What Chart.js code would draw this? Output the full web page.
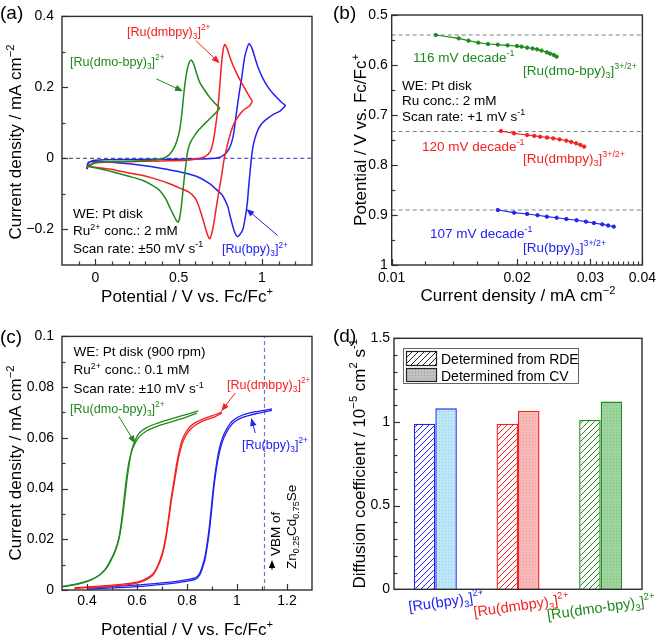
<!DOCTYPE html>
<html><head><meta charset="utf-8">
<script src="https://cdn.jsdelivr.net/npm/chart.js@4.4.1/dist/chart.umd.min.js"></script>
<style>
html,body{margin:0;padding:0;background:#fff}
body{width:661px;height:640px;position:relative;overflow:hidden}
canvas{position:absolute;display:block}
</style></head><body>
<canvas id="ca" width="330" height="320" style="left:0;top:0"></canvas>
<canvas id="cb" width="331" height="320" style="left:330px;top:0"></canvas>
<canvas id="cc" width="330" height="320" style="left:0;top:320px"></canvas>
<canvas id="cd" width="331" height="320" style="left:330px;top:320px"></canvas>
<script>
// ---------------- DATA ----------------
// (a) cyclic voltammograms [potential V, current density mA cm-2]
const cvBpyFwd=[[-0.05,-0.03],[-0.04,-0.012],[0,-0.005],[0.2,-0.003],[0.5,-0.002],[0.7,0.0],[0.76,0.006],[0.8,0.025],[0.826,0.06],[0.846,0.126],[0.862,0.18],[0.876,0.22],[0.896,0.285],[0.91,0.31],[0.922,0.323],[0.94,0.31],[0.96,0.28],[0.976,0.257],[1.006,0.225],[1.036,0.201],[1.066,0.183],[1.096,0.168],[1.12,0.157],[1.142,0.149]];
const cvBpyRev=[[1.142,0.149],[1.11,0.134],[1.076,0.126],[1.04,0.115],[1.006,0.102],[0.98,0.085],[0.966,0.069],[0.951,0.045],[0.94,0.015],[0.93,-0.03],[0.92,-0.08],[0.912,-0.125],[0.9,-0.165],[0.885,-0.2],[0.866,-0.215],[0.852,-0.22],[0.838,-0.21],[0.826,-0.193],[0.81,-0.165],[0.796,-0.137],[0.776,-0.115],[0.756,-0.1],[0.72,-0.085],[0.686,-0.071],[0.606,-0.05],[0.5,-0.037],[0.4,-0.028],[0.286,-0.02],[0.15,-0.013],[0,-0.008],[-0.044,-0.012],[-0.05,-0.03]];
const cvDmbFwd=[[-0.05,-0.025],[0,-0.013],[0.2,-0.009],[0.4,-0.007],[0.55,-0.005],[0.62,0.0],[0.66,0.006],[0.69,0.02],[0.706,0.045],[0.72,0.085],[0.735,0.14],[0.746,0.2],[0.755,0.255],[0.765,0.3],[0.776,0.321],[0.79,0.31],[0.81,0.282],[0.826,0.262],[0.856,0.232],[0.886,0.206],[0.91,0.186],[0.926,0.173],[0.942,0.161]];
const cvDmbRev=[[0.942,0.161],[0.925,0.148],[0.9,0.14],[0.886,0.135],[0.86,0.12],[0.836,0.102],[0.816,0.079],[0.806,0.062],[0.796,0.045],[0.786,0.025],[0.776,0.006],[0.766,-0.022],[0.756,-0.053],[0.746,-0.08],[0.736,-0.108],[0.726,-0.137],[0.712,-0.18],[0.698,-0.212],[0.686,-0.226],[0.674,-0.216],[0.66,-0.195],[0.646,-0.172],[0.63,-0.148],[0.616,-0.128],[0.596,-0.11],[0.566,-0.096],[0.5,-0.082],[0.446,-0.071],[0.35,-0.056],[0.286,-0.048],[0.15,-0.036],[0.086,-0.03],[0,-0.025],[-0.044,-0.022],[-0.05,-0.025]];
const cvDmoFwd=[[-0.05,-0.022],[0,-0.011],[0.2,-0.008],[0.386,-0.003],[0.42,0.003],[0.446,0.012],[0.47,0.028],[0.486,0.045],[0.506,0.08],[0.52,0.13],[0.53,0.178],[0.54,0.218],[0.552,0.252],[0.564,0.271],[0.576,0.277],[0.59,0.266],[0.606,0.242],[0.626,0.215],[0.656,0.192],[0.686,0.172],[0.716,0.156],[0.746,0.142]];
const cvDmoRev=[[0.746,0.142],[0.726,0.13],[0.706,0.121],[0.676,0.107],[0.646,0.093],[0.62,0.08],[0.596,0.065],[0.576,0.05],[0.562,0.035],[0.552,0.015],[0.544,-0.015],[0.536,-0.045],[0.526,-0.09],[0.516,-0.135],[0.506,-0.167],[0.496,-0.18],[0.484,-0.173],[0.466,-0.156],[0.446,-0.137],[0.42,-0.112],[0.386,-0.09],[0.34,-0.075],[0.286,-0.062],[0.2,-0.05],[0.146,-0.043],[0.08,-0.035],[0.026,-0.029],[-0.044,-0.022]];
const aZeroLeft=[[-0.2,0],[0.6,0]];
const aZeroRight=[[0.6,0],[1.3,0]];
const aXTicks=[0,0.5,1], aXMinor=[-0.1,0.1,0.2,0.3,0.4,0.6,0.7,0.8,0.9,1.1,1.2];
const aYTicks=[-0.2,0,0.2,0.4], aYMinor=[-0.1,0.1,0.3];

// (b) Tafel plots [current density mA cm-2, potential V]
const tafDmo=[[0.01276,0.540],[0.01448,0.5467],[0.01529,0.5513],[0.01614,0.5553],[0.01703,0.558],[0.01798,0.5593],[0.01898,0.5607],[0.0200,0.562],[0.0205,0.5632],[0.02115,0.5653],[0.0218,0.567],[0.02234,0.5687],[0.0229,0.5712],[0.02358,0.5747],[0.0240,0.5772],[0.0245,0.580],[0.02489,0.5833]];
const tafDmb=[[0.0183,0.732],[0.01968,0.7367],[0.02115,0.740],[0.0220,0.7417],[0.02273,0.7433],[0.0236,0.745],[0.02444,0.7467],[0.0253,0.7488],[0.02627,0.7513],[0.0270,0.7538],[0.02773,0.7567],[0.0284,0.7598],[0.0290,0.7633]];
const tafBpy=[[0.01798,0.890],[0.01968,0.8953],[0.02115,0.898],[0.0224,0.9005],[0.02358,0.9033],[0.0249,0.9055],[0.02627,0.908],[0.0278,0.9105],[0.02928,0.9133],[0.0306,0.916],[0.03205,0.9187],[0.0331,0.921],[0.03414,0.9233]];
const bRefPotentials=[0.54,0.733,0.89];
const bXTicks=[0.01,0.02,0.03,0.04];
const bXMinor=[0.012,0.014,0.016,0.018,0.021,0.022,0.023,0.024,0.025,0.026,0.027,0.028,0.029,0.031,0.032,0.033,0.034,0.035,0.036,0.037,0.038,0.039];
const bYTicks=[0.5,0.6,0.7,0.8,0.9,1], bYMinor=[0.55,0.65,0.75,0.85,0.95];

// (c) RDE linear sweeps [potential V, current density mA cm-2]
const rdeDmoFwd=[[0.30,0.0012],[0.35,0.002],[0.40,0.0033],[0.44,0.0052],[0.47,0.0078],[0.49,0.011],[0.51,0.015],[0.525,0.0195],[0.535,0.025],[0.545,0.033],[0.555,0.042],[0.565,0.049],[0.575,0.0535],[0.59,0.0575],[0.61,0.0605],[0.64,0.0628],[0.68,0.0645],[0.72,0.0658],[0.76,0.067],[0.80,0.0683],[0.84,0.0698]];
const rdeDmoRev=[[0.845,0.0706],[0.80,0.0693],[0.76,0.0682],[0.72,0.0670],[0.68,0.0657],[0.64,0.0641],[0.61,0.062],[0.595,0.0595],[0.58,0.0555],[0.57,0.0505],[0.56,0.0435],[0.55,0.035],[0.54,0.027],[0.53,0.021],[0.515,0.0158],[0.495,0.0115],[0.475,0.0082],[0.445,0.0055],[0.40,0.0035],[0.35,0.0022],[0.30,0.0014]];
const rdeDmbFwd=[[0.35,0.0006],[0.40,0.0009],[0.50,0.0015],[0.57,0.0022],[0.62,0.0033],[0.66,0.0055],[0.68,0.0085],[0.70,0.0134],[0.715,0.020],[0.727,0.0278],[0.737,0.035],[0.747,0.041],[0.757,0.047],[0.767,0.0525],[0.78,0.0575],[0.793,0.0605],[0.81,0.063],[0.833,0.065],[0.86,0.0665],[0.887,0.0675],[0.915,0.0685],[0.94,0.0698]];
const rdeDmbRev=[[0.94,0.0703],[0.915,0.0692],[0.887,0.0683],[0.86,0.0673],[0.833,0.066],[0.81,0.0642],[0.793,0.0618],[0.78,0.059],[0.767,0.054],[0.757,0.0488],[0.747,0.0425],[0.737,0.0365],[0.727,0.029],[0.715,0.021],[0.70,0.0142],[0.68,0.009],[0.66,0.006],[0.62,0.0037],[0.57,0.0026],[0.50,0.0019],[0.40,0.0012],[0.35,0.0009]];
const rdeBpyFwd=[[0.40,0.0003],[0.50,0.0008],[0.60,0.0013],[0.70,0.0022],[0.77,0.003],[0.833,0.0042],[0.85,0.0058],[0.86,0.0081],[0.873,0.0125],[0.887,0.0213],[0.897,0.030],[0.907,0.040],[0.917,0.0475],[0.927,0.053],[0.94,0.058],[0.953,0.0612],[0.973,0.0645],[0.993,0.0665],[1.02,0.068],[1.047,0.0688],[1.075,0.0695],[1.10,0.0700],[1.14,0.0708]];
const rdeBpyRev=[[1.14,0.0714],[1.10,0.0707],[1.075,0.0703],[1.047,0.0697],[1.02,0.0689],[0.993,0.0675],[0.973,0.0657],[0.953,0.0625],[0.94,0.0595],[0.927,0.0548],[0.917,0.049],[0.907,0.0418],[0.897,0.0322],[0.887,0.023],[0.873,0.0138],[0.86,0.009],[0.85,0.0065],[0.833,0.0048],[0.77,0.0036],[0.70,0.0028],[0.60,0.0019],[0.50,0.0013],[0.40,0.0008]];
const cVbmLine=[[1.11,0],[1.11,0.1]];
const cXTicks=[0.4,0.6,0.8,1,1.2], cXMinor=[0.5,0.7,0.9,1.1];
const cYTicks=[0,0.02,0.04,0.06,0.08,0.1], cYMinor=[0.01,0.03,0.05,0.07,0.09];

// (d) diffusion coefficients (10^-5 cm2 s-1)
const dCategories=['[Ru(bpy)_{3}]^{2+}','[Ru(dmbpy)_{3}]^{2+}','[Ru(dmo-bpy)_{3}]^{2+}'];
const dRDE=[0.99,0.99,1.012];
const dCV=[1.082,1.066,1.122];
const dSeriesNames=['Determined from RDE','Determined from CV'];
const dYTicks=[0,0.5,1,1.5], dYMinor=[0.1,0.2,0.3,0.4,0.6,0.7,0.8,0.9,1.1,1.2,1.3,1.4];

// ---------------- STYLE / HELPERS ----------------
const FONT="'Liberation Sans', Arial, Helvetica, sans-serif";
const BLUE='#2121f2', RED='#f52020', GREEN='#1e891e';
Chart.defaults.font.family=FONT;
Chart.defaults.color='#000';
Chart.defaults.animation=false;

function pts(a){return a.map(p=>({x:p[0],y:p[1]}));}
function fmt(v){return String(+Number(v).toFixed(4)).replace('-','\u2212');}
function lineDs(data,color,extra){return Object.assign({data:pts(data),showLine:true,borderColor:color,backgroundColor:color,borderWidth:1.5,pointRadius:0,tension:0.25,fill:false},extra||{});}

function parseRich(s){const out=[];let buf='',i=0;while(i<s.length){const c=s[i];if((c==='_'||c==='^')&&s[i+1]==='{'){if(buf){out.push({t:buf,m:0});buf='';}const j=s.indexOf('}',i+2);out.push({t:s.slice(i+2,j),m:c==='_'?1:2});i=j+1;}else{buf+=c;i++;}}if(buf)out.push({t:buf,m:0});return out;}
function drawRich(ctx,s,x,y,o){
  o=o||{};const size=o.size||13.5,color=o.color||'#000',align=o.align||'left',rot=o.rot||0;
  const parts=parseRich(s);
  ctx.save();ctx.translate(x,y);if(rot)ctx.rotate(rot);
  ctx.fillStyle=color;ctx.textBaseline='alphabetic';ctx.textAlign='left';
  let w=0;const ws=[];
  parts.forEach(p=>{ctx.font=(p.m?size*0.66:size)+'px '+FONT;const m=ctx.measureText(p.t).width;ws.push(m);w+=m;});
  let cx=align==='center'?-w/2:align==='right'?-w:0;
  const base=size*0.36;
  parts.forEach((p,k)=>{ctx.font=(p.m?size*0.66:size)+'px '+FONT;const dy=p.m===1?size*0.26:p.m===2?-size*0.42:0;ctx.fillText(p.t,cx,base+dy);cx+=ws[k];});
  ctx.restore();
}
function arrow(ctx,x0,y0,x1,y1,color){
  const ang=Math.atan2(y1-y0,x1-x0),L=8,W=3.2,c=Math.cos(ang),s=Math.sin(ang);
  ctx.save();ctx.strokeStyle=color;ctx.fillStyle=color;ctx.lineWidth=1;
  ctx.beginPath();ctx.moveTo(x0,y0);ctx.lineTo(x1-L*0.7*c,y1-L*0.7*s);ctx.stroke();
  ctx.beginPath();ctx.moveTo(x1,y1);ctx.lineTo(x1-L*c+W*s,y1-L*s-W*c);ctx.lineTo(x1-L*c-W*s,y1-L*s+W*c);ctx.closePath();ctx.fill();
  ctx.restore();
}
function framePlugin(t){return {id:'frame',afterDatasetsDraw(chart){
  const {ctx,chartArea:a,scales}=chart;const sx=scales.x,sy=scales.y;
  ctx.save();ctx.strokeStyle='#333';ctx.lineWidth=1.2;
  const vt=(v,len)=>{const p=Math.round(sx.getPixelForValue(v))+0.5;ctx.beginPath();ctx.moveTo(p,a.bottom);ctx.lineTo(p,a.bottom-len);ctx.stroke();};
  const ht=(v,len)=>{const p=Math.round(sy.getPixelForValue(v))+0.5;ctx.beginPath();ctx.moveTo(a.left,p);ctx.lineTo(a.left+len,p);ctx.stroke();};
  (t.xMajor||[]).forEach(v=>vt(v,6));(t.xMinor||[]).forEach(v=>vt(v,3.5));
  (t.yMajor||[]).forEach(v=>ht(v,6));(t.yMinor||[]).forEach(v=>ht(v,3.5));
  ctx.lineWidth=1.4;ctx.strokeStyle='#2e2e2e';ctx.strokeRect(a.left,a.top,a.right-a.left,a.bottom-a.top);
  ctx.restore();}};}
function notesPlugin(items,extra){return {id:'notes',afterDraw(chart){
  const ctx=chart.ctx,sx=chart.scales.x,sy=chart.scales.y;
  items.forEach(it=>{
    if(it.arrow){const [p,q]=it.arrow;arrow(ctx,sx.getPixelForValue(p[0]),sy.getPixelForValue(p[1]),sx.getPixelForValue(q[0]),sy.getPixelForValue(q[1]),it.color);}
    else drawRich(ctx,it.s,it.x,it.y,it);
  });
  if(extra)extra(chart);}};}
function fixedTicks(arr){return s=>{s.ticks=arr.map(v=>({value:v}));};}
function axisX(o){return Object.assign({grid:{display:false,drawTicks:false},border:{display:false},
  ticks:{font:{size:14},color:'#000',padding:o.pad||5,maxRotation:0,autoSkip:false,callback:v=>fmt(v)},
  afterBuildTicks:fixedTicks(o.ticks),afterFit:s=>{s.height=o.h;}},o.extra||{});}
function axisY(o){return Object.assign({grid:{display:false,drawTicks:false},border:{display:false},
  ticks:{font:{size:14},color:'#000',padding:o.pad||8,autoSkip:false,callback:v=>fmt(v)},
  afterBuildTicks:fixedTicks(o.ticks),afterFit:s=>{s.width=o.w;}},o.extra||{});}
const commonPlugins={legend:{display:false},tooltip:{enabled:false}};
const HALF=-Math.PI/2;
const LBL=12.6;

// ---------------- (a) ----------------
new Chart(document.getElementById('ca'),{type:'scatter',
  data:{datasets:[
    lineDs(cvDmoFwd,GREEN),lineDs(cvDmoRev,GREEN),
    lineDs(cvDmbFwd,RED),lineDs(cvDmbRev,RED),
    lineDs(cvBpyFwd,BLUE),lineDs(cvBpyRev,BLUE),
    lineDs(aZeroRight,'#5a5ad6',{borderWidth:1.2,borderDash:[4,3],tension:0}),
    lineDs(aZeroLeft,'#666666',{borderWidth:1.2,borderDash:[4,3],tension:0})
  ]},
  options:{responsive:false,devicePixelRatio:1,animation:false,
    layout:{padding:{left:0,top:16,right:18,bottom:0}},
    scales:{
      x:axisX({ticks:aXTicks,h:55,extra:{type:'linear',min:-0.2,max:1.3}}),
      y:axisY({ticks:aYTicks,w:62,extra:{type:'linear',min:-0.3,max:0.4}})
    },plugins:commonPlugins},
  plugins:[framePlugin({xMajor:aXTicks,xMinor:aXMinor,yMajor:aYTicks,yMinor:aYMinor}),
    notesPlugin([
      {s:'(a)',x:0,y:12,size:19},
      {s:'Potential / V vs. Fc/Fc^{+}',x:187,y:296,size:17,align:'center'},
      {s:'Current density / mA cm^{\u22122}',x:15,y:142,size:17,align:'center',rot:HALF},
      {s:'[Ru(dmbpy)_{3}]^{2+}',x:127,y:31,color:RED,size:LBL},
      {s:'[Ru(dmo-bpy)_{3}]^{2+}',x:70,y:61,color:GREEN,size:LBL},
      {s:'[Ru(bpy)_{3}]^{2+}',x:222,y:248.5,color:BLUE,size:LBL},
      {s:'WE: Pt disk',x:73,y:213},
      {s:'Ru^{2+} conc.: 2 mM',x:73,y:230.5},
      {s:'Scan rate: \u00b150 mV s^{-1}',x:73,y:248},
      {arrow:[[0.603,0.332],[0.746,0.268]],color:RED},
      {arrow:[[0.366,0.224],[0.526,0.189]],color:GREEN},
      {arrow:[[1.094,-0.217],[0.906,-0.142]],color:BLUE}
    ])]
});

// ---------------- (b) ----------------
const bRefDs=bRefPotentials.map(v=>lineDs([[0.01,v],[0.04,v]],'#808080',{borderWidth:1.2,borderDash:[4,3],tension:0}));
function tafDs(d,c){return {data:pts(d),showLine:true,borderColor:c,backgroundColor:'#ffffff',borderWidth:1.1,pointRadius:1.7,pointBorderWidth:1,pointBorderColor:c,pointBackgroundColor:c,tension:0,fill:false};}
new Chart(document.getElementById('cb'),{type:'scatter',
  data:{datasets:[tafDs(tafDmo,GREEN),tafDs(tafDmb,RED),tafDs(tafBpy,BLUE)].concat(bRefDs)},
  options:{responsive:false,devicePixelRatio:1,animation:false,
    layout:{padding:{left:0,top:15,right:16,bottom:0}},
    scales:{
      x:axisX({ticks:bXTicks,h:55,extra:{type:'logarithmic',min:0.01,max:0.04}}),
      y:axisY({ticks:bYTicks,w:61.7,pad:4,extra:{type:'linear',min:0.5,max:1,reverse:true}})
    },plugins:commonPlugins},
  plugins:[framePlugin({xMajor:bXTicks,xMinor:bXMinor,yMajor:bYTicks,yMinor:bYMinor}),
    notesPlugin([
      {s:'(b)',x:3,y:12,size:19},
      {s:'Current density / mA cm^{\u22122}',x:188,y:295,size:17,align:'center'},
      {s:'Potential / V vs. Fc/Fc^{+}',x:30,y:140,size:17,align:'center',rot:HALF},
      {s:'116 mV decade^{-1}',x:83,y:57,color:GREEN},
      {s:'[Ru(dmo-bpy)_{3}]^{3+/2+}',x:193,y:70,color:GREEN},
      {s:'WE: Pt disk',x:72,y:85},
      {s:'Ru conc.: 2 mM',x:72,y:100.5},
      {s:'Scan rate: +1 mV s^{-1}',x:72,y:116},
      {s:'120 mV decade^{-1}',x:92,y:146,color:RED},
      {s:'[Ru(dmbpy)_{3}]^{3+/2+}',x:193,y:158,color:RED},
      {s:'107 mV decade^{-1}',x:100,y:233,color:BLUE},
      {s:'[Ru(bpy)_{3}]^{3+/2+}',x:193,y:247,color:BLUE}
    ])]
});

// ---------------- (c) ----------------
new Chart(document.getElementById('cc'),{type:'scatter',
  data:{datasets:[
    lineDs(rdeDmoFwd,GREEN,{borderWidth:1.3}),lineDs(rdeDmoRev,GREEN,{borderWidth:1.3}),
    lineDs(rdeDmbFwd,RED,{borderWidth:1.3}),lineDs(rdeDmbRev,RED,{borderWidth:1.3}),
    lineDs(rdeBpyFwd,BLUE,{borderWidth:1.3}),lineDs(rdeBpyRev,BLUE,{borderWidth:1.3}),
    lineDs(cVbmLine,'#7272b4',{borderWidth:1.2,borderDash:[4,3],tension:0})
  ]},
  options:{responsive:false,devicePixelRatio:1,animation:false,
    layout:{padding:{left:0,top:16,right:18,bottom:0}},
    scales:{
      x:axisX({ticks:cXTicks,h:50,pad:3,extra:{type:'linear',min:0.3,max:1.3}}),
      y:axisY({ticks:cYTicks,w:62,extra:{type:'linear',min:0,max:0.1}})
    },plugins:commonPlugins},
  plugins:[framePlugin({xMajor:cXTicks,xMinor:cXMinor,yMajor:cYTicks,yMinor:cYMinor}),
    notesPlugin([
      {s:'(c)',x:0,y:16,size:19},
      {s:'Potential / V vs. Fc/Fc^{+}',x:187,y:309,size:17,align:'center'},
      {s:'Current density / mA cm^{\u22122}',x:15,y:143,size:17,align:'center',rot:HALF},
      {s:'WE: Pt disk (900 rpm)',x:73.5,y:31},
      {s:'Ru^{2+} conc.: 0.1 mM',x:73.5,y:49.5},
      {s:'Scan rate: \u00b110 mV s^{-1}',x:73.5,y:68.5},
      {s:'[Ru(dmo-bpy)_{3}]^{2+}',x:70,y:88,color:GREEN,size:LBL},
      {s:'[Ru(dmbpy)_{3}]^{2+}',x:227,y:64,color:RED,size:LBL},
      {s:'[Ru(bpy)_{3}]^{2+}',x:242,y:124,color:BLUE,size:LBL},
      {arrow:[[0.527,0.0685],[0.593,0.0578]],color:GREEN},
      {arrow:[[0.993,0.0777],[0.937,0.0705]],color:RED},
      {arrow:[[1.073,0.0619],[1.057,0.0678]],color:BLUE},
      {s:'VBM of',x:275,y:236,rot:HALF},
      {s:'Zn_{0.25}Cd_{0.75}Se',x:291,y:249,rot:HALF}
    ],chart=>{const ctx=chart.ctx;arrow(ctx,272,250,272,240,'#000');})]
});

// ---------------- (d) ----------------
const dCtx=document.getElementById('cd').getContext('2d');
function hatchPattern(color){const c=document.createElement('canvas');c.width=6;c.height=6;const g=c.getContext('2d');
  g.fillStyle='#fff';g.fillRect(0,0,6,6);g.strokeStyle=color;g.lineWidth=1;g.beginPath();
  g.moveTo(-1,7);g.lineTo(7,-1);g.moveTo(-1,1);g.lineTo(1,-1);g.moveTo(5,7);g.lineTo(7,5);g.stroke();
  return dCtx.createPattern(c,'repeat');}
function stipplePattern(base,dot){const c=document.createElement('canvas');c.width=3;c.height=3;const g=c.getContext('2d');
  g.fillStyle=base;g.fillRect(0,0,3,3);g.fillStyle=dot;g.fillRect(1,1,1,1);
  return dCtx.createPattern(c,'repeat');}
const dColors=[BLUE,RED,GREEN];
const dCvFills=[stipplePattern('#bde6f6','#98d0ea'),stipplePattern('#f8b9b9','#ee9a9a'),stipplePattern('#9dd39d','#84c184')];
const dLabelPos=[[116,281],[191,285],[271,287]];
new Chart(dCtx,{type:'bar',
  data:{labels:dCategories,datasets:[
    {label:dSeriesNames[0],data:dRDE,backgroundColor:dColors.map(hatchPattern),borderColor:dColors,borderWidth:1.4,borderSkipped:'bottom'},
    {label:dSeriesNames[1],data:dCV,backgroundColor:dCvFills,borderColor:dColors,borderWidth:1.4,borderSkipped:'bottom'}
  ]},
  options:{responsive:false,devicePixelRatio:1,animation:false,
    layout:{padding:{left:0,top:18.3,right:19,bottom:0}},
    datasets:{bar:{barPercentage:1,categoryPercentage:0.52}},
    scales:{
      x:{type:'category',grid:{display:false,drawTicks:false},border:{display:false},ticks:{display:false},afterFit:s=>{s.height=50.7;}},
      y:axisY({ticks:dYTicks,w:64,pad:4,extra:{type:'linear',min:0,max:1.5}})
    },plugins:commonPlugins},
  plugins:[framePlugin({yMajor:dYTicks,yMinor:dYMinor}),
    notesPlugin([
      {s:'(d)',x:3,y:15,size:19},
      {s:'Diffusion coefficient / 10^{\u22125} cm^{2} s^{-1}',x:28.5,y:143.8,size:17,align:'center',rot:HALF}
    ],chart=>{
      const ctx=chart.ctx;
      dCategories.forEach((c,i)=>drawRich(ctx,c,dLabelPos[i][0],dLabelPos[i][1],{color:dColors[i],size:14.5,align:'center',rot:-0.14}));
      // legend
      ctx.save();
      ctx.fillStyle='#ffffff';ctx.fillRect(73.5,28.5,175,35);
      ctx.strokeStyle='#666';ctx.lineWidth=1;ctx.strokeRect(73.5,28.5,175,35);
      const hp=(()=>{const c=document.createElement('canvas');c.width=6;c.height=6;const g=c.getContext('2d');g.fillStyle='#fff';g.fillRect(0,0,6,6);g.strokeStyle='#222';g.lineWidth=1;g.beginPath();g.moveTo(-1,7);g.lineTo(7,-1);g.moveTo(-1,1);g.lineTo(1,-1);g.moveTo(5,7);g.lineTo(7,5);g.stroke();return ctx.createPattern(c,'repeat');})();
      ctx.fillStyle=hp;ctx.fillRect(76.5,31.5,30,14);ctx.strokeStyle='#222';ctx.lineWidth=1.2;ctx.strokeRect(76.5,31.5,30,14);
      ctx.fillStyle=stipplePattern('#c2c2c2','#9a9a9a');ctx.fillRect(76.5,48.5,30,13);ctx.strokeRect(76.5,48.5,30,13);
      ctx.restore();
      drawRich(ctx,dSeriesNames[0],111,38.5,{size:14});
      drawRich(ctx,dSeriesNames[1],111,55.5,{size:14});
    })]
});
</script>
</body></html>
